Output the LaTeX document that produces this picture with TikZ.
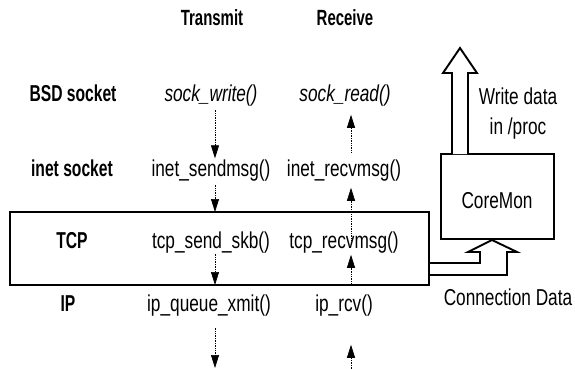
\documentclass[tikz,border=0pt]{standalone}
\usepackage{fontspec}
\setmainfont{Liberation Sans}[FakeStretch=0.75,BoldFeatures={FakeStretch=0.68}]
\usetikzlibrary{arrows.meta,calc}
\begin{document}
\begin{tikzpicture}[x=1pt,y=-1pt,
  every node/.style={inner sep=0pt,outer sep=0pt,anchor=base},
  fn/.style={font=\fontsize{23}{27}\selectfont},
  lbl/.style={font=\fontsize{23}{27}\selectfont\bfseries},
  hdr/.style={font=\fontsize{22}{26}\selectfont\bfseries},
  flow/.style={densely dotted,line width=0.7pt,-{Triangle[length=13pt,width=8pt]}},
  thickbox/.style={draw,line width=2.6pt,anchor=center},
  monbox/.style={draw,line width=2pt,anchor=center},
  hollow/.style={line width=1.9pt,line join=miter}]
\useasboundingbox (0,0) rectangle (575,369);
% headers
\node[hdr] (thdr) at (212,26) {Transmit};
\node[hdr] (rhdr) at (345,26) {Receive};
% layer labels
\node[lbl] (lbsd) at (73,101) {BSD socket};
\node[lbl] (linet) at (72,176) {inet socket};
\node[lbl] (ltcp) at (72,248) {TCP};
\node[lbl] (lip) at (68,311) {IP};
% functions
\node[fn] (sw) at (211,101) {\itshape sock\_write()};
\node[fn] (sr) at (345,101) {\itshape sock\_read()};
\node[fn] (is) at (211,176) {inet\_sendmsg()};
\node[fn] (ir) at (344,176) {inet\_recvmsg()};
\node[fn] (tss) at (211,248) {tcp\_send\_skb()};
\node[fn] (trm) at (344,248) {tcp\_recvmsg()};
\node[fn] (iqx) at (209,311) {ip\_queue\_xmit()};
\node[fn] (iprcv) at (344,311) {ip\_rcv()};
% boxes
\node[thickbox,minimum width=419pt,minimum height=73pt] (tcpbox) at (219.5,248.5) {};
\node[monbox,minimum width=113pt,minimum height=85pt] (coremon) at (497.5,196.5) {};
\node[fn] (cmtxt) at (497,208) {CoreMon};
\node[fn,anchor=center,align=center,font=\fontsize{23}{30}\selectfont] (wd) at (518,114) {Write data\\in /proc};
\node[fn] (cd) at (508,305) {Connection Data};
% column coordinates
\coordinate (tx) at (215,0);
\coordinate (rx) at (351,0);
\coordinate (txend) at (215,368);
\coordinate (rxend) at (351,369);
% transmit arrows
\draw[flow,shorten <=4pt,shorten >=1pt] (tx |- sw.south) -- (tx |- is.north);
\draw[flow,shorten <=4pt] (tx |- is.south) -- (tx |- tcpbox.north);
\draw[flow,shorten <=1pt] (tx |- tss.south) -- (tx |- tcpbox.south);
\draw[flow,shorten <=12pt] (tx |- iqx.south) -- (txend);
% receive arrows
\draw[flow,shorten <=7pt,shorten >=9pt] (rx |- ir.north) -- (rx |- sr.south);
\draw[flow,shorten <=-9pt,shorten >=7pt] (rx |- trm.north) -- (rx |- ir.south);
\draw[flow,shorten >=2pt] (rx |- tcpbox.south) -- (rx |- trm.south);
\draw[flow,shorten >=29pt] (rxend) -- (rx |- iprcv.south);
% hollow arrow: write data to /proc
\draw[hollow,fill=white] ($(coremon.north west)+(11,0)$) -- ++(0,-81) -- ++(-9,0) -- ++(17,-25) -- ++(17,25) -- ++(-9,0) -- ++(0,81);
% hollow arrow: connection data from TCP to CoreMon
\draw[hollow] ([yshift=-14.5pt]tcpbox.east) -- ++(51,0) -- ++(0,-11) -- ++(-12,0) -- ++(24,-12) -- ++(25,12) -- ++(-10,0) -- ++(0,23) -- ++(-78,0);
\end{tikzpicture}
\end{document}
